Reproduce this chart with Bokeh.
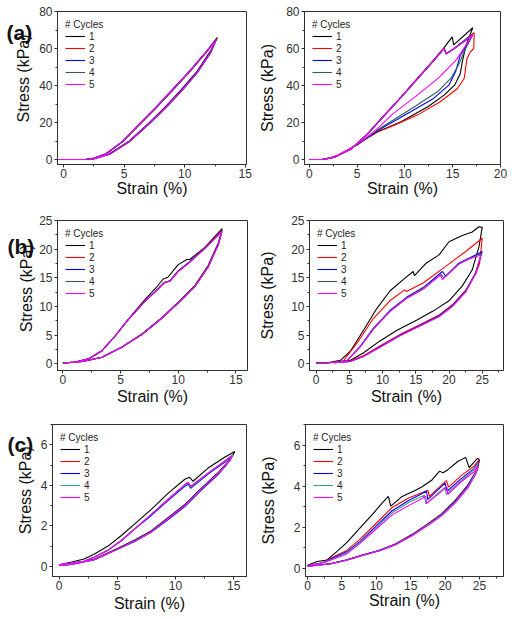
import math
from bokeh.plotting import figure
from bokeh.layouts import column, row
from bokeh.models import Legend, LegendItem, Range1d, SingleIntervalTicker
from bokeh.core.properties import value
from bokeh.embed import file_html
from bokeh.resources import INLINE

FONT = "Liberation Sans"

cycle_labels = ["1", "2", "3", "4", "5"]
legend_title = "# Cycles"
x_label = "Strain (%)"
y_label = "Stress (kPa)"
panel_tags = ["(a)", "(b)", "(c)"]

colors_ab = ["#000000", "#FF0000", "#0000FF", "#2F5F4F", "#FF00FF"]
colors_c = ["#000000", "#FF0000", "#0000FF", "#3A9A8A", "#FF00FF"]

# ---------------- (a) left ----------------
aL_strain = [
    [-0.4, 1.8, 2.5, 3.5, 4.9, 6.25, 7.6, 9.0, 10.4, 11.8, 12.7, 12.1, 11.0, 9.7, 8.3, 6.9, 5.4, 3.8, 2.6, 2.2],
    [-0.4, 1.8, 2.5, 3.5, 4.9, 6.25, 7.6, 9.0, 10.4, 11.8, 12.65, 12.15, 11.05, 9.75, 8.35, 6.95, 5.45, 3.85, 2.6, 2.2],
    [-0.4, 1.8, 2.5, 3.5, 4.9, 6.2, 7.55, 8.95, 10.35, 11.75, 12.6, 12.1, 11.0, 9.7, 8.3, 6.9, 5.4, 3.8, 2.6, 2.2],
    [-0.4, 1.8, 2.5, 3.5, 4.9, 6.25, 7.6, 9.0, 10.4, 11.8, 12.6, 12.15, 11.05, 9.75, 8.35, 6.95, 5.45, 3.85, 2.6, 2.2],
    [-0.4, 1.8, 2.5, 3.5, 4.85, 6.2, 7.55, 8.95, 10.35, 11.75, 12.55, 12.1, 11.0, 9.7, 8.3, 6.9, 5.4, 3.8, 2.6, 2.2],
]
aL_stress = [
    [0, 0, 0.8, 3.1, 9.9, 18.8, 27.8, 37.6, 47.5, 58.3, 66.0, 58.3, 47.5, 37.6, 27.8, 18.8, 9.9, 3.1, 0.5, 0],
    [0, 0, 0.7, 3.0, 9.8, 18.7, 27.6, 37.4, 47.3, 58.0, 65.4, 57.9, 47.1, 37.2, 27.5, 18.6, 9.8, 3.0, 0.5, 0],
    [0, 0, 0.7, 3.0, 9.9, 18.8, 27.8, 37.6, 47.5, 58.2, 64.9, 57.8, 47.0, 37.1, 27.4, 18.5, 9.7, 3.0, 0.5, 0],
    [0, 0, 0.7, 3.0, 9.8, 18.7, 27.6, 37.4, 47.3, 58.0, 64.6, 57.6, 46.9, 37.0, 27.3, 18.4, 9.6, 2.9, 0.5, 0],
    [0, 0, 0.7, 3.0, 9.8, 18.8, 27.8, 37.5, 47.4, 58.1, 64.3, 57.5, 46.8, 37.0, 27.3, 18.4, 9.6, 2.9, 0.5, 0],
]

# ---------------- (a) right ----------------
aR_strain = [
    [0, 1.3, 2.7, 4.4, 6.1, 7.85, 9.6, 11.3, 13.0, 14.1, 14.95, 15.1, 17.1,
     16.4, 16.0, 15.8, 15.2, 14.1, 12.4, 9.6, 7.2, 6.0, 5.0, 4.0, 3.0, 2.0, 1.5],
    [0, 1.3, 2.7, 4.4, 6.1, 7.85, 9.6, 11.3, 13.0, 14.1, 14.3, 15.0, 17.25,
     17.2, 16.85, 16.5, 16.2, 15.5, 13.7, 11.3, 8.9, 7.2, 6.0, 5.0, 4.0, 3.0, 2.0, 1.5],
    [0, 1.3, 2.7, 4.4, 6.1, 7.85, 9.6, 11.3, 13.0, 14.1, 14.3, 15.0, 17.05,
     16.7, 15.8, 15.3, 14.6, 13.0, 10.6, 7.85, 7.0, 6.0, 5.0, 4.0, 3.0, 2.0, 1.5],
    [0, 1.3, 2.7, 4.4, 6.1, 7.85, 9.6, 11.3, 13.0, 14.1, 14.3, 15.0, 17.1,
     16.2, 15.6, 14.8, 13.4, 11.0, 8.2, 7.0, 6.0, 5.0, 4.0, 3.0, 2.0, 1.5],
    [0, 1.3, 2.7, 4.4, 6.1, 7.85, 9.6, 11.3, 13.0, 14.1, 14.3, 15.0, 17.1,
     15.4, 13.5, 11.1, 8.7, 7.3, 6.0, 5.0, 4.0, 3.0, 2.0, 1.5],
]
aR_stress = [
    [0, 0, 1.4, 5.9, 14.0, 24.0, 33.9, 43.8, 53.7, 60.5, 66.3, 62.0, 71.2,
     61.8, 52.8, 46.5, 40.2, 34.8, 28.5, 20.4, 15.2, 11.5, 8.0, 5.0, 2.2, 0.5, 0],
    [0, 0, 1.3, 5.8, 13.8, 23.8, 33.7, 43.6, 53.5, 60.2, 57.3, 59.5, 68.5,
     60.0, 58.2, 54.6, 43.8, 38.4, 31.2, 24.0, 18.5, 15.0, 11.3, 7.9, 4.9, 2.1, 0.5, 0],
    [0, 0, 1.3, 5.7, 13.7, 23.7, 33.6, 43.5, 53.3, 60.0, 57.0, 59.3, 67.0,
     63.6, 56.4, 47.4, 40.2, 33.0, 25.8, 17.7, 15.0, 11.4, 8.0, 5.0, 2.2, 0.5, 0],
    [0, 0, 1.3, 5.7, 13.7, 23.7, 33.6, 43.5, 53.3, 60.0, 57.1, 59.4, 68.0,
     58.2, 51.0, 43.8, 36.6, 28.5, 19.5, 15.5, 11.6, 8.1, 5.1, 2.3, 0.5, 0],
    [0, 0, 1.3, 5.8, 13.8, 23.8, 33.7, 43.6, 53.4, 60.1, 57.2, 59.4, 67.5,
     54.0, 44.0, 34.0, 24.5, 17.5, 12.0, 8.3, 5.2, 2.4, 0.6, 0],
]

# ---------------- (b) left ----------------
bL_strain = [
    [0, 1.1, 2.25, 3.4, 4.55, 5.7, 7.15, 8.0, 8.7, 9.1, 10.0, 10.75, 11.0, 12.3, 13.8,
     13.5, 12.6, 11.45, 10.0, 8.6, 6.85, 5.1, 3.4, 1.7, 0.3],
    [0, 1.1, 2.25, 3.4, 4.55, 5.7, 7.15, 8.0, 8.8, 9.3, 10.0, 11.0, 12.3, 13.8,
     13.5, 12.6, 11.45, 10.0, 8.6, 6.85, 5.1, 3.4, 1.7, 0.3],
    [0, 1.1, 2.25, 3.4, 4.55, 5.7, 7.15, 8.0, 8.8, 9.3, 10.0, 11.0, 12.3, 13.75,
     13.45, 12.6, 11.45, 10.0, 8.6, 6.85, 5.1, 3.4, 1.7, 0.3],
    [0, 1.1, 2.25, 3.4, 4.55, 5.7, 7.15, 8.0, 8.8, 9.3, 10.0, 11.0, 12.3, 13.8,
     13.5, 12.6, 11.45, 10.0, 8.6, 6.85, 5.1, 3.4, 1.7, 0.3],
    [0, 1.1, 2.25, 3.4, 4.55, 5.7, 7.15, 8.0, 8.8, 9.3, 10.0, 11.0, 12.3, 13.75,
     13.45, 12.6, 11.45, 10.0, 8.6, 6.85, 5.1, 3.4, 1.7, 0.3],
]
bL_stress = [
    [0.15, 0.3, 0.9, 2.3, 4.9, 7.85, 11.3, 13.1, 14.8, 15.1, 17.3, 18.2, 18.2, 20.3, 23.6,
     21.2, 17.2, 13.7, 10.75, 8.1, 5.2, 2.9, 1.15, 0.4, 0.2],
    [0.15, 0.3, 0.9, 2.3, 4.9, 7.8, 11.0, 12.6, 14.2, 14.5, 16.2, 17.8, 20.2, 23.3,
     20.9, 17.0, 13.6, 10.7, 8.0, 5.15, 2.9, 1.15, 0.4, 0.2],
    [0.15, 0.3, 0.9, 2.3, 4.9, 7.8, 11.0, 12.6, 14.2, 14.5, 16.2, 17.8, 20.1, 23.1,
     20.8, 16.9, 13.5, 10.6, 8.0, 5.1, 2.9, 1.15, 0.4, 0.2],
    [0.15, 0.3, 0.9, 2.3, 4.9, 7.8, 11.0, 12.6, 14.2, 14.5, 16.2, 17.8, 20.2, 23.2,
     20.9, 17.0, 13.6, 10.7, 8.0, 5.15, 2.9, 1.15, 0.4, 0.2],
    [0.15, 0.3, 0.9, 2.3, 4.9, 7.8, 11.0, 12.5, 14.1, 14.4, 16.1, 17.7, 20.1, 23.0,
     20.7, 16.9, 13.5, 10.6, 8.0, 5.1, 2.9, 1.15, 0.4, 0.2],
]

# ---------------- (b) right ----------------
bR_strain = [
    [0, 1.7, 3.65, 5.15, 7.15, 9.1, 11.1, 13.1, 14.6, 14.8, 16.6, 18.5, 20.0, 22.0, 23.5, 24.5, 25.0,
     24.5, 23.5, 22.0, 20.0, 17.6, 15.1, 12.1, 9.6, 7.1, 5.1, 3.0],
    [0, 2.0, 4.1, 6.15, 8.6, 11.1, 13.3, 13.6, 16.1, 19.5, 22.5, 25.0,
     24.6, 24.1, 22.5, 20.5, 18.5, 15.6, 12.6, 9.6, 7.1, 5.1, 2.7],
    [0, 2.0, 4.6, 6.6, 8.6, 11.1, 13.6, 16.1, 19.0, 19.5, 21.5, 23.0, 25.0,
     24.0, 22.5, 20.5, 18.5, 15.6, 12.6, 9.6, 7.1, 5.1, 2.7],
    [0, 2.0, 4.6, 6.6, 8.6, 11.1, 13.6, 16.1, 18.8, 19.2, 21.5, 23.0, 24.9,
     24.0, 22.5, 20.5, 18.5, 15.6, 12.6, 9.6, 7.1, 5.1, 2.7],
    [0, 2.0, 4.6, 6.6, 8.6, 11.1, 13.6, 16.1, 18.7, 19.0, 21.5, 23.0, 24.8,
     24.0, 22.5, 20.5, 18.5, 15.6, 12.6, 9.6, 7.1, 5.1, 2.7],
]
bR_stress = [
    [0.2, 0.2, 0.6, 2.2, 5.9, 9.6, 12.7, 14.7, 16.1, 15.4, 17.6, 19.0, 21.3, 22.4, 23.0, 23.9, 23.8,
     20.4, 16.4, 13.6, 11.0, 9.2, 7.6, 5.8, 4.0, 1.9, 0.6, 0.3],
    [0.15, 0.2, 0.5, 3.6, 7.9, 11.0, 12.9, 12.6, 14.1, 17.0, 19.6, 21.9,
     17.5, 15.9, 12.8, 10.3, 8.5, 6.8, 5.1, 3.1, 1.4, 0.5, 0.2],
    [0.15, 0.2, 0.5, 3.0, 6.2, 9.3, 11.6, 13.3, 16.1, 15.3, 17.6, 18.4, 19.6,
     15.9, 12.7, 10.2, 8.4, 6.7, 5.0, 3.0, 1.3, 0.4, 0.2],
    [0.15, 0.2, 0.5, 2.9, 6.1, 9.2, 11.5, 13.2, 15.6, 15.0, 17.5, 18.3, 19.3,
     15.8, 12.6, 10.1, 8.3, 6.6, 4.9, 2.9, 1.3, 0.4, 0.2],
    [0.15, 0.2, 0.5, 2.9, 6.0, 9.1, 11.4, 13.0, 15.5, 14.7, 17.4, 18.3, 19.0,
     15.7, 12.5, 10.0, 8.2, 6.6, 4.9, 2.9, 1.3, 0.4, 0.2],
]

# ---------------- (c) left ----------------
cL_strain = [
    [0, 1.0, 2.15, 3.0, 4.2, 5.3, 6.5, 7.9, 9.35, 10.8, 11.2, 11.5, 12.8, 14.25, 15.1,
     14.8, 13.7, 12.2, 10.8, 9.35, 7.9, 6.5, 5.0, 3.0, 1.0, 0],
    [0, 1.0, 2.15, 3.0, 4.2, 5.3, 6.5, 7.9, 9.35, 10.8, 11.1, 11.3, 12.8, 14.25, 14.9,
     14.7, 13.7, 12.2, 10.8, 9.35, 7.9, 6.5, 5.0, 3.0, 1.0, 0],
    [0, 1.0, 2.15, 3.0, 4.2, 5.3, 6.5, 7.9, 9.35, 10.8, 11.1, 11.3, 12.8, 14.25, 14.85,
     14.65, 13.7, 12.2, 10.8, 9.35, 7.9, 6.5, 5.0, 3.0, 1.0, 0],
    [0, 1.0, 2.15, 3.0, 4.2, 5.3, 6.5, 7.9, 9.35, 10.8, 11.1, 11.3, 12.8, 14.25, 14.9,
     14.7, 13.7, 12.2, 10.8, 9.35, 7.9, 6.5, 5.0, 3.0, 1.0, 0],
    [0, 1.0, 2.15, 3.0, 4.2, 5.3, 6.5, 7.9, 9.35, 10.8, 11.1, 11.3, 12.8, 14.25, 14.85,
     14.65, 13.7, 12.2, 10.8, 9.35, 7.9, 6.5, 5.0, 3.0, 1.0, 0],
]
cL_stress = [
    [0.08, 0.2, 0.36, 0.6, 1.0, 1.5, 2.1, 2.8, 3.6, 4.3, 4.4, 4.2, 4.85, 5.4, 5.67,
     5.35, 4.65, 3.85, 3.05, 2.4, 1.75, 1.3, 0.88, 0.35, 0.12, 0.05],
    [0.08, 0.15, 0.25, 0.45, 0.8, 1.25, 1.85, 2.55, 3.3, 4.0, 4.1, 3.9, 4.6, 5.2, 5.5,
     5.25, 4.6, 3.8, 3.0, 2.35, 1.7, 1.25, 0.85, 0.33, 0.1, 0.05],
    [0.08, 0.15, 0.25, 0.45, 0.8, 1.25, 1.85, 2.5, 3.25, 3.95, 4.05, 3.85, 4.55, 5.15, 5.45,
     5.2, 4.55, 3.75, 2.95, 2.3, 1.68, 1.23, 0.84, 0.32, 0.1, 0.05],
    [0.08, 0.15, 0.25, 0.45, 0.8, 1.25, 1.85, 2.55, 3.3, 4.0, 4.1, 3.9, 4.6, 5.2, 5.5,
     5.25, 4.6, 3.8, 3.0, 2.35, 1.7, 1.25, 0.85, 0.33, 0.1, 0.05],
    [0.08, 0.15, 0.25, 0.45, 0.8, 1.25, 1.85, 2.55, 3.3, 4.05, 4.15, 3.95, 4.6, 5.2, 5.45,
     5.2, 4.6, 3.8, 3.0, 2.35, 1.7, 1.25, 0.85, 0.33, 0.1, 0.05],
]

# ---------------- (c) right ----------------
cR_strain = [
    [0, 1.4, 2.8, 4.2, 5.7, 7.6, 9.5, 10.9, 11.75, 12.1, 13.75, 15.7, 16.6, 18.0, 19.2, 19.7, 20.4,
     21.85, 23.0, 23.5, 24.7, 25.0,
     24.7, 23.3, 21.4, 19.5, 17.6, 15.2, 12.8, 10.4, 8.0, 5.65, 3.3, 0],
    [0, 2.0, 4.0, 5.7, 7.6, 9.95, 12.3, 14.7, 17.5, 17.7, 20.2, 20.5, 22.3, 24.2, 25.0,
     24.7, 23.3, 21.4, 19.5, 17.6, 15.2, 12.8, 10.4, 8.0, 5.65, 3.3, 0],
    [0, 2.0, 4.0, 5.7, 7.6, 9.95, 12.3, 14.7, 17.3, 17.5, 20.0, 20.3, 22.3, 24.2, 24.9,
     24.6, 23.3, 21.4, 19.5, 17.6, 15.2, 12.8, 10.4, 8.0, 5.65, 3.3, 0],
    [0, 2.0, 4.0, 5.7, 7.6, 9.95, 12.3, 14.7, 17.0, 17.2, 20.0, 20.2, 22.3, 24.2, 24.8,
     24.5, 23.3, 21.4, 19.5, 17.6, 15.2, 12.8, 10.4, 8.0, 5.65, 3.3, 0],
    [0, 2.0, 4.0, 5.7, 7.6, 9.95, 12.3, 14.7, 17.2, 17.3, 20.3, 20.4, 22.3, 24.2, 24.8,
     24.5, 23.3, 21.4, 19.5, 17.6, 15.2, 12.8, 10.4, 8.0, 5.65, 3.3, 0],
]
cR_stress = [
    [0.15, 0.33, 0.4, 0.8, 1.25, 1.95, 2.65, 3.2, 3.5, 3.03, 3.5, 3.8, 3.96, 4.27, 4.73, 4.65, 4.8,
     5.2, 5.4, 4.9, 5.35, 5.3,
     4.8, 4.04, 3.27, 2.65, 2.18, 1.64, 1.18, 0.87, 0.64, 0.4, 0.22, 0.1],
    [0.12, 0.25, 0.6, 0.87, 1.41, 2.18, 2.96, 3.42, 3.8, 3.5, 4.27, 3.95, 4.5, 4.97, 5.3,
     4.85, 4.04, 3.27, 2.65, 2.18, 1.64, 1.18, 0.87, 0.64, 0.4, 0.22, 0.1],
    [0.12, 0.25, 0.55, 0.8, 1.3, 2.05, 2.8, 3.3, 3.75, 3.35, 4.15, 3.75, 4.35, 4.85, 5.2,
     4.78, 4.0, 3.24, 2.62, 2.16, 1.62, 1.17, 0.86, 0.63, 0.4, 0.22, 0.1],
    [0.12, 0.24, 0.5, 0.75, 1.25, 1.98, 2.7, 3.2, 3.55, 3.15, 3.95, 3.6, 4.25, 4.8, 5.15,
     4.7, 3.95, 3.2, 2.6, 2.14, 1.6, 1.16, 0.85, 0.62, 0.39, 0.21, 0.1],
    [0.12, 0.23, 0.48, 0.7, 1.2, 1.9, 2.6, 3.05, 3.5, 3.15, 3.96, 3.6, 4.2, 4.7, 5.0,
     4.6, 3.9, 3.15, 2.55, 2.1, 1.58, 1.14, 0.84, 0.62, 0.38, 0.21, 0.1],
]


def panel(strain, stress, colors, xr, yr, xstep, ystep, w, h, bl, br, bt, bb,
          ylab_standoff, xlab_standoff, show_ylabel=True):
    p = figure(width=w, height=h, output_backend="svg", toolbar_location=None,
               x_range=Range1d(*xr), y_range=Range1d(*yr),
               min_border_left=bl, min_border_right=br,
               min_border_top=bt, min_border_bottom=bb)
    p.title.visible = False
    p.grid.visible = False
    p.outline_line_color = "#303030"
    p.outline_line_width = 1
    p.outline_line_alpha = 1
    p.xaxis.ticker = SingleIntervalTicker(interval=xstep, num_minor_ticks=2)
    p.yaxis.ticker = SingleIntervalTicker(interval=ystep, num_minor_ticks=2)
    for ax in (p.xaxis[0], p.yaxis[0]):
        ax.axis_line_color = "#303030"
        ax.major_tick_line_color = "#303030"
        ax.minor_tick_line_color = "#303030"
        ax.major_tick_out = 3
        ax.major_tick_in = 0
        ax.minor_tick_out = 2
        ax.minor_tick_in = 0
        ax.major_label_text_font = FONT
        ax.major_label_text_font_size = "12px"
        ax.major_label_text_color = "#333333"
        ax.axis_label_text_font = FONT
        ax.axis_label_text_font_size = "16px"
        ax.axis_label_text_font_style = "normal"
        ax.axis_label_text_color = "#111111"
    p.xaxis.axis_label = x_label
    if show_ylabel:
        p.yaxis.axis_label = y_label
    p.xaxis.major_label_standoff = 1
    p.yaxis.major_label_standoff = 2
    p.xaxis.axis_label_standoff = xlab_standoff
    p.yaxis.axis_label_standoff = ylab_standoff

    rs = []
    for xs, ys, c in zip(strain, stress, colors):
        rs.append(p.line(xs, ys, line_color=c, line_width=1.1))
    leg = Legend(items=[LegendItem(label=l, renderers=[r]) for l, r in zip(cycle_labels, rs)],
                 location="top_left", title=legend_title)
    leg.title_text_font = FONT
    leg.title_text_font_size = "10px"
    leg.title_text_font_style = "normal"
    leg.title_text_color = "#222222"
    leg.title_standoff = 0
    leg.label_text_font = FONT
    leg.label_text_font_size = "10px"
    leg.label_text_color = "#222222"
    leg.glyph_width = 20
    leg.glyph_height = 12
    leg.label_height = 12
    leg.label_standoff = 4
    leg.spacing = 0
    leg.padding = 4
    leg.margin = 8
    leg.border_line_color = None
    leg.background_fill_alpha = 0
    p.add_layout(leg)
    return p


def side(w, h, tag, tag_left, tag_base, ylab_base, ylab_cy):
    # narrow strip left of the left-column panels: panel tag and y-axis title
    s = figure(width=w, height=h, output_backend="svg", toolbar_location=None,
               x_range=Range1d(0, w), y_range=Range1d(0, h),
               x_axis_location=None, y_axis_location=None, min_border=0,
               min_border_left=0, min_border_right=0, min_border_top=0, min_border_bottom=0)
    s.title.visible = False
    s.grid.visible = False
    s.outline_line_color = None
    s.text(x=[tag_left], y=[h - tag_base], text=[tag], text_font=value(FONT),
           text_font_style="bold", text_font_size="21px", text_align="left",
           text_baseline="alphabetic", text_color="#111111")
    s.text(x=[ylab_base], y=[h - ylab_cy], text=[y_label], angle=math.pi / 2,
           text_font=value(FONT), text_font_size="16px", text_align="center",
           text_baseline="alphabetic", text_color="#111111")
    return s


S = 36
WL = 256 - S
WR = 256
Ha, Hb, Hc = 200, 210, 208

sa = side(S, Ha, panel_tags[0], 6, 28, 22.5, 87.5)
pa1 = panel(aL_strain, aL_stress, colors_ab, (-0.5, 15.1), (-2.7, 80), 5, 20,
            WL, Ha, 57 - S, 10, 11, 36, 0, -1, show_ylabel=False)
pa2 = panel(aR_strain, aR_stress, colors_ab, (-0.5, 20.0), (-2.7, 80), 5, 20,
            WR, Ha, 47, 12, 11, 36, 7, -1)

sb = side(S, Hb, panel_tags[1], 7, 37, 25.5, 95)
pb1 = panel(bL_strain, bL_stress, colors_ab, (-0.46, 16.0), (-1.16, 25), 5, 5,
            WL, Hb, 57 - S, 9, 20, 40, 0, 1, show_ylabel=False)
pb2 = panel(bR_strain, bR_stress, colors_ab, (-1.0, 28.2), (-1.16, 25), 5, 5,
            WR, Hb, 51, 9, 18, 39, 12, 1)

sc = side(S, Hc, panel_tags[2], 7, 27, 25, 90)
pc1 = panel(cL_strain, cL_stress, colors_c, (-0.57, 16.1), (-0.5, 7), 5, 2,
            WL, Hc, 52 - S, 10, 14, 42, 0, 2, show_ylabel=False)
pc2 = panel(cR_strain, cR_stress, colors_c, (-0.3, 28.5), (-0.4, 7), 5, 2,
            WR, Hc, 46, 9, 12, 41, 14, -1)

layout = column(row(sa, pa1, pa2), row(sb, pb1, pb2), row(sc, pc1, pc2))
open("out.html", "w").write(file_html(layout, INLINE))
